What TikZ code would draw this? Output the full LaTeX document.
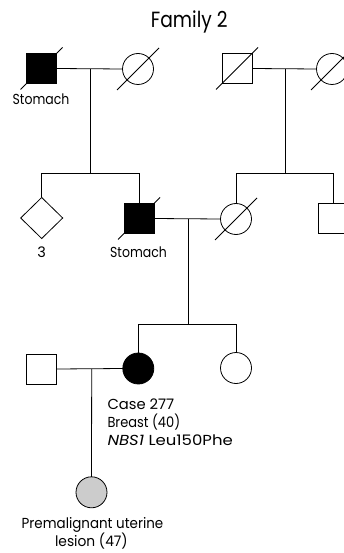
\documentclass[tikz,border=0pt]{standalone}
\usepackage{fontspec}
\usepackage{graphicx}
\setmainfont{Poppins}
\usetikzlibrary{shapes.geometric,calc}
\tikzset{
  person/.style={draw, line width=0.8pt, inner sep=0pt, outer sep=0pt},
  male/.style={person, rectangle, minimum size=30pt},
  female/.style={person, circle, minimum size=31pt},
  unknown/.style={person, diamond, minimum width=42pt, minimum height=41pt},
  affected/.style={fill=black},
  partial/.style={fill=black!20},
  link/.style={line width=0.8pt},
  deceased/.style={line width=0.8pt},
  lbl/.style={font=\fontsize{14.5}{17}\selectfont, inner sep=0pt},
  ttl/.style={font=\fontsize{22}{26}\selectfont, inner sep=0pt}
}
\newcommand{\deadmark}[1]{\draw[deceased] ($(#1)+(-21,21)$) -- ($(#1)+(21,-21)$);}
\newcommand{\fitw}[2]{\resizebox{#1}{\height}{#2}}
\begin{document}
\begin{tikzpicture}[x=1pt,y=-1pt]
\useasboundingbox (0,0) rectangle (344,553);
\node[ttl, anchor=base] (title) at (189.3,28) {\fitw{76.7pt}{Family 2}};
% generation I
\node[male, affected] (gm1) at (41.5,68.5) {};
\node[female] (gf1) at (138,69) {};
\node[male] (gm2) at (237,68.5) {};
\node[female] (gf2) at (332,69) {};
\deadmark{gm1}\deadmark{gf1}\deadmark{gm2}\deadmark{gf2}
\node[lbl, anchor=base] (l1) at (41,105) {\fitw{56.7pt}{Stomach}};
\coordinate (m1) at (90.7,69);
\coordinate (s1) at (90.7,173.3);
\coordinate (m2) at (285,69);
\coordinate (s2) at (285,173.3);
\draw[link] (gm1.east) -- (gf1.west);
\draw[link] (gm2.east) -- (gf2.west);
\draw[link] (m1) -- (s1);
\draw[link] (m2) -- (s2);
% generation II
\node[unknown] (d3) at (41.7,218) {};
\node[male, affected] (p2) at (139,218.5) {};
\node[female] (w2) at (236,219) {};
\node[male] (b2) at (333,218.5) {};
\deadmark{p2}\deadmark{w2}
\node[lbl, anchor=base] (l3) at (41.7,257) {3};
\node[lbl, anchor=base] (l2) at (138.5,257) {\fitw{56.7pt}{Stomach}};
\coordinate (sl1) at (41.7,173.3);
\coordinate (sr1) at (139,173.3);
\coordinate (sl2) at (236,173.3);
\coordinate (sr2) at (333,173.3);
\draw[link] (sl1) -- (sr1);
\draw[link] (sl2) -- (sr2);
\draw[link] (sl1) -- (d3.north);
\draw[link] (sr1) -- (p2.north);
\draw[link] (sl2) -- (w2.north);
\draw[link] (sr2) -- (b2.north);
\draw[link] (p2.east) -- (w2.west);
\coordinate (m3) at (188.3,219);
\coordinate (s3) at (188.3,324.3);
\draw[link] (m3) -- (s3);
% generation III
\node[male] (h3) at (41.7,369) {};
\node[female, affected] (c277) at (138.3,368.5) {};
\node[female] (sis) at (236,368) {};
\coordinate (sl3) at (138.3,324.3);
\coordinate (sr3) at (236,324.3);
\draw[link] (sl3) -- (sr3);
\draw[link] (sl3) -- (c277.north);
\draw[link] (sr3) -- (sis.north);
\draw[link] (h3.east) -- (c277.west);
\node[lbl, anchor=base west] (t1) at (107.3,409.5) {\fitw{66.7pt}{Case 277}};
\node[lbl, anchor=base west] (t2) at (107.3,427.5) {\fitw{72.7pt}{Breast (40)}};
\node[lbl, anchor=base west] (t3) at (107.3,445.5) {\fitw{125.3pt}{\textit{NBS1} Leu150Phe}};
% generation IV
\node[female, partial] (dau) at (91.5,492.3) {};
\coordinate (m4) at (91.7,369);
\draw[link] (m4) -- (dau.north);
\node[lbl, anchor=base] (t4) at (92.5,528.3) {\fitw{141.6pt}{Premalignant uterine}};
\node[lbl, anchor=base] (t5) at (91.4,546.7) {\fitw{72.7pt}{lesion (47)}};
\end{tikzpicture}
\end{document}
